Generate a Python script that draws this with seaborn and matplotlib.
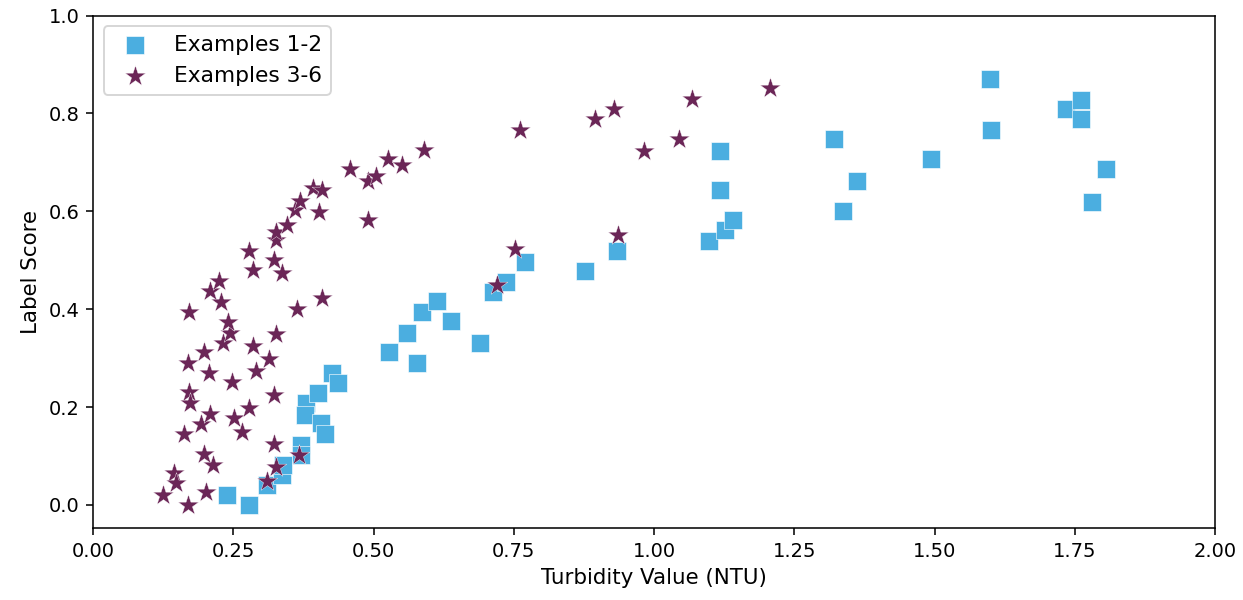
import numpy as np
import pandas as pd
import matplotlib
matplotlib.use("Agg")
import matplotlib.pyplot as plt
import seaborn as sns

# Examples 1-2 (squares)
ex12_x = [0.238, 0.277, 0.309, 0.336, 0.338, 0.370, 0.370, 0.379, 0.377, 0.400,
          0.406, 0.413, 0.425, 0.437, 0.528, 0.559, 0.578, 0.587, 0.613, 0.638,
          0.690, 0.713, 0.736, 0.770, 0.877, 0.934, 1.098, 1.126, 1.141, 1.118,
          1.118, 1.321, 1.336, 1.362, 1.493, 1.598, 1.601, 1.735, 1.761, 1.761,
          1.806, 1.781]
ex12_y = [0.020, 0.000, 0.041, 0.061, 0.082, 0.122, 0.102, 0.208, 0.184, 0.228,
          0.167, 0.146, 0.269, 0.250, 0.313, 0.351, 0.290, 0.394, 0.417, 0.375,
          0.331, 0.436, 0.456, 0.497, 0.479, 0.520, 0.540, 0.561, 0.582, 0.724,
          0.644, 0.747, 0.601, 0.663, 0.706, 0.871, 0.767, 0.810, 0.828, 0.789,
          0.686, 0.620]

# Examples 3-6 (stars)
ex36_x = [0.124, 0.144, 0.147, 0.169, 0.201, 0.162, 0.171, 0.172, 0.169, 0.171,
          0.192, 0.197, 0.214, 0.209, 0.198, 0.206, 0.208, 0.224, 0.228, 0.232,
          0.244, 0.241, 0.247, 0.251, 0.265, 0.278, 0.285, 0.291, 0.278, 0.284,
          0.314, 0.310, 0.326, 0.323, 0.323, 0.326, 0.322, 0.336, 0.326, 0.326,
          0.345, 0.360, 0.369, 0.363, 0.366, 0.392, 0.407, 0.403, 0.408, 0.457,
          0.489, 0.505, 0.490, 0.525, 0.551, 0.589, 0.720, 0.752, 0.761, 0.895,
          0.929, 0.936, 0.982, 1.045, 1.067, 1.207]
ex36_y = [0.020, 0.065, 0.044, 0.000, 0.027, 0.146, 0.231, 0.209, 0.290, 0.394,
          0.165, 0.105, 0.082, 0.186, 0.313, 0.270, 0.437, 0.457, 0.415, 0.330,
          0.352, 0.374, 0.252, 0.177, 0.150, 0.199, 0.325, 0.273, 0.520, 0.480,
          0.299, 0.050, 0.077, 0.124, 0.224, 0.349, 0.500, 0.475, 0.541, 0.558,
          0.573, 0.602, 0.622, 0.401, 0.102, 0.648, 0.643, 0.599, 0.423, 0.687,
          0.662, 0.673, 0.582, 0.707, 0.695, 0.726, 0.449, 0.524, 0.767, 0.789,
          0.810, 0.551, 0.723, 0.748, 0.830, 0.852]

labels = ["Examples 1-2", "Examples 3-6"]
colors = ["#4BAEE0", "#6B2657"]
x_ticks = [0.00, 0.25, 0.50, 0.75, 1.00, 1.25, 1.50, 1.75, 2.00]
y_ticks = [0.0, 0.2, 0.4, 0.6, 0.8, 1.0]

df1 = pd.DataFrame({"x": ex12_x, "y": ex12_y})
df2 = pd.DataFrame({"x": ex36_x, "y": ex36_y})

dpi = 140
fig = plt.figure(figsize=(1243 / dpi, 600 / dpi), dpi=dpi)
ax = fig.add_axes([0.075, 0.12, 0.9025, 0.854])

sns.scatterplot(data=df1, x="x", y="y", marker="s", s=78, color=colors[0],
                edgecolor="white", linewidth=0.3, label=labels[0], ax=ax)
sns.scatterplot(data=df2, x="x", y="y", marker="*", s=125, color=colors[1],
                edgecolor="white", linewidth=0.2, label=labels[1], ax=ax)

ax.set_xlim(0, 2.0)
ax.set_ylim(-0.047, 1.0)
ax.set_xticks(x_ticks)
ax.set_xticklabels([f"{v:.2f}" for v in x_ticks])
ax.set_yticks(y_ticks)
ax.set_yticklabels([f"{v:.1f}" for v in y_ticks])
ax.set_xlabel("Turbidity Value (NTU)", fontsize=11)
ax.set_ylabel("Label Score", fontsize=11)
ax.legend(loc="upper left", fontsize=11.2)

fig.savefig("out.png", dpi=dpi)
